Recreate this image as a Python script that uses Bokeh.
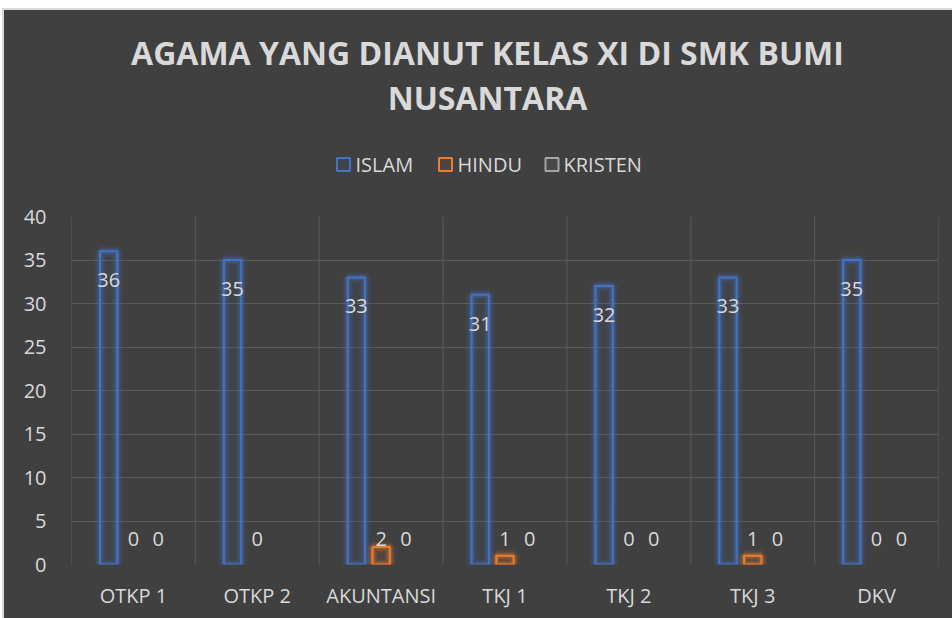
from bokeh.plotting import figure
from bokeh.models import FactorRange, Range1d, ColumnDataSource, Spacer
from bokeh.layouts import column, row
from bokeh.transform import dodge
from bokeh.core.properties import value
from bokeh.embed import file_html
from bokeh.resources import INLINE

# ---- data ----
categories = ["OTKP 1", "OTKP 2", "AKUNTANSI", "TKJ 1", "TKJ 2", "TKJ 3", "DKV"]
islam = [36, 35, 33, 31, 32, 33, 35]
hindu = [0, 0, 2, 1, 0, 1, 0]
kristen = [0, None, 0, 0, 0, 0, 0]
series_names = ["ISLAM", "HINDU", "KRISTEN"]
y_ticks = [0, 5, 10, 15, 20, 25, 30, 35, 40]
title_lines = ["AGAMA YANG DIANUT KELAS XI DI SMK BUMI", "NUSANTARA"]

# ---- layout / style ----
BG = "#404040"
EDGE = "#d9d9d9"
TXT = "#d9d9d9"
GRID = "#595959"
colors = ["#4472C4", "#ED7D31", "#A5A5A5"]
FONT = "Open Sans"

W = 948
BL, BR = 67, 14            # left/right borders (shared by both figures)
FW = W - BL - BR           # frame width
HH = 190                   # header height
H = 418                    # chart height
legend_box_x = [272, 374, 480.5]
legend_text_x = [284, 386, 492]
legend_y = 154
title_x = 416
title_y = [42, 87]

# ---------- header: title + legend ----------
head = figure(width=W, height=HH, x_range=Range1d(0, FW), y_range=Range1d(HH, 0),
              output_backend="svg", toolbar_location=None, x_axis_type=None, y_axis_type=None,
              min_border_left=BL, min_border_right=BR, min_border_top=0, min_border_bottom=0,
              background_fill_color=BG, background_fill_alpha=0,
              border_fill_color=BG, border_fill_alpha=0, outline_line_color=None)
head.title.visible = False
head.grid.visible = False
tsrc = ColumnDataSource(dict(x=[title_x] * 2, y=title_y, t=title_lines))
head.text(x="x", y="y", text="t", source=tsrc, text_color=TXT, text_font=value(FONT),
          text_font_style="bold", text_font_size="32px", text_align="center",
          text_baseline="alphabetic")
lsrc_h = ColumnDataSource(dict(bx=legend_box_x, tx=legend_text_x, y=[legend_y] * 3,
                               name=series_names, col=colors))
head.rect(x="bx", y="y", width=13, height=13, source=lsrc_h, fill_color="col", fill_alpha=0.08,
          line_color="col", line_width=2)
head.text(x="tx", y="y", text="name", source=lsrc_h, text_color=TXT, text_font=value(FONT),
          text_font_size="20px", text_align="left", text_baseline="middle")

# ---------- chart ----------
p = figure(x_range=FactorRange(*categories, range_padding=0), y_range=Range1d(0, 40),
           width=W, height=H, output_backend="svg", toolbar_location=None,
           min_border_left=BL, min_border_right=BR, min_border_top=16, min_border_bottom=54,
           background_fill_color=BG, border_fill_color=BG, outline_line_color=None)
p.title.visible = False

p.xgrid.visible = False
p.ygrid.grid_line_color = GRID
p.ygrid.grid_line_width = 1
p.yaxis.ticker = y_ticks
bounds = list(range(len(categories) + 1))
p.segment(x0=bounds, x1=bounds, y0=[y_ticks[0]] * len(bounds), y1=[y_ticks[-1]] * len(bounds),
          line_color=GRID, line_width=1)

for ax in (p.xaxis[0], p.yaxis[0]):
    ax.axis_line_color = None
    ax.major_tick_line_color = None
    ax.minor_tick_line_color = None
    ax.major_label_text_color = TXT
    ax.major_label_text_font = FONT
    ax.major_label_text_font_size = "20px"
p.yaxis.major_label_standoff = 19
p.xaxis.major_label_standoff = 11

offsets = [-0.2, 0.0, 0.2]
series = [islam, hindu, kristen]
for name, vals, off, col in zip(series_names, series, offsets, colors):
    cats = [c for c, v in zip(categories, vals) if v is not None]
    vv = [v for v in vals if v is not None]
    bcats = [c for c, v in zip(cats, vv) if v > 0]
    bvals = [v for v in vv if v > 0]
    bsrc = ColumnDataSource(dict(cat=bcats, val=bvals))
    xd = dodge("cat", off, range=p.x_range)
    for lw, la in ((12, 0.08), (8, 0.14), (5, 0.25)):
        p.vbar(x=xd, top="val", width=0.14, source=bsrc, fill_color=None,
               line_color=col, line_width=lw, line_alpha=la)
    p.vbar(x=xd, top="val", width=0.14, source=bsrc, fill_color=col, fill_alpha=0.08,
           line_color=col, line_width=2)
    lsrc = ColumnDataSource(dict(cat=cats, val=vv, base=[0] * len(vv), lab=[str(v) for v in vv]))
    if name == "ISLAM":
        p.text(x=xd, y="val", text="lab", source=lsrc, text_color=TXT,
               text_font=value(FONT), text_font_size="20px", text_align="center",
               text_baseline="alphabetic", y_offset=29)
    else:
        p.text(x=xd, y="base", text="lab", source=lsrc, text_color=TXT,
               text_font=value(FONT), text_font_size="20px", text_align="center",
               text_baseline="alphabetic", y_offset=-26)

inner = column(head, p, spacing=0, styles={"background-color": BG})
framed = column(Spacer(height=2, width=W, styles={"background-color": EDGE}), inner, spacing=0)
layout = column(Spacer(height=8, width=952),
                row(Spacer(width=2, height=HH + H + 2),
                    Spacer(width=2, height=HH + H + 2, styles={"background-color": EDGE}),
                    framed, spacing=0),
                spacing=0)
open("out.html", "w").write(file_html(layout, INLINE))
